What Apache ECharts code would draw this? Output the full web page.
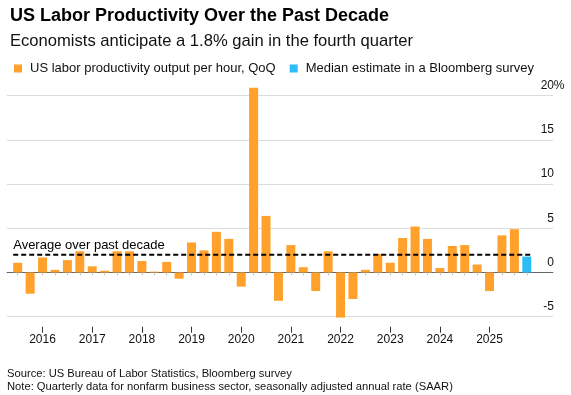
<!DOCTYPE html>
<html>
<head>
<meta charset="utf-8">
<script src="https://cdn.jsdelivr.net/npm/echarts@6/dist/echarts.min.js"></script>
<style>
html,body{margin:0;padding:0;background:#fff;}
#chart{width:571px;height:395px;}
</style>
</head>
<body>
<div id="chart"></div>
<script>
// ---- data ----
const quarters = [
  '2015 Q3','2015 Q4',
  '2016 Q1','2016 Q2','2016 Q3','2016 Q4',
  '2017 Q1','2017 Q2','2017 Q3','2017 Q4',
  '2018 Q1','2018 Q2','2018 Q3','2018 Q4',
  '2019 Q1','2019 Q2','2019 Q3','2019 Q4',
  '2020 Q1','2020 Q2','2020 Q3','2020 Q4',
  '2021 Q1','2021 Q2','2021 Q3','2021 Q4',
  '2022 Q1','2022 Q2','2022 Q3','2022 Q4',
  '2023 Q1','2023 Q2','2023 Q3','2023 Q4',
  '2024 Q1','2024 Q2','2024 Q3','2024 Q4',
  '2025 Q1','2025 Q2','2025 Q3','2025 Q4'
];
const productivity = [
  1.1, -2.4,
  1.7, 0.3, 1.4, 2.4,
  0.7, 0.2, 2.4, 2.4,
  1.3, 0.1, 1.2, -0.7,
  3.4, 2.5, 4.6, 3.8,
  -1.6, 20.9, 6.4, -3.2,
  3.1, 0.6, -2.1, 2.4,
  -5.1, -3.0, 0.3, 2.1,
  1.1, 3.9, 5.2, 3.8,
  0.5, 3.0, 3.1, 0.9,
  -2.1, 4.2, 4.9, null
];
const estimate = [
  null, null,
  null, null, null, null,
  null, null, null, null,
  null, null, null, null,
  null, null, null, null,
  null, null, null, null,
  null, null, null, null,
  null, null, null, null,
  null, null, null, null,
  null, null, null, null,
  null, null, null, 1.8
];
const decadeAverage = 2.0;
const yTicks = [-5, 0, 5, 10, 15, 20];
const seriesNames = ['US labor productivity output per hour, QoQ', 'Median estimate in a Bloomberg survey'];

// ---- chart ----
const FONT = 'Liberation Sans, Arial, Helvetica, sans-serif';
const chart = echarts.init(document.getElementById('chart'), null, {renderer: 'canvas'});
const yMin = yTicks[0], yMax = yTicks[yTicks.length - 1], yStep = yTicks[1] - yTicks[0];
const isQ1 = (idx, val) => /Q1$/.test(val);

const option = {
  backgroundColor: '#fff',
  animation: false,
  textStyle: {fontFamily: FONT},
  title: [
    {text: 'US Labor Productivity Over the Past Decade', left: 5, top: 2,
     textStyle: {fontSize: 18, fontWeight: 'bold', color: '#000', fontFamily: FONT}},
    {text: 'Economists anticipate a 1.8% gain in the fourth quarter', left: 5, top: 28,
     textStyle: {fontSize: 16.6, fontWeight: 'normal', color: '#111', fontFamily: FONT}}
  ],
  legend: {
    data: seriesNames,
    left: 9, top: 57,
    icon: 'rect', itemWidth: 8, itemHeight: 8, itemGap: 14,
    selectedMode: false,
    textStyle: {fontSize: 13, color: '#111', fontFamily: FONT, padding: [0, 0, 0, 3]}
  },
  grid: [
    {left: 7, right: 18, top: 95.7, bottom: 78.3},
    {left: 11.5, right: 38, top: 95.7, bottom: 78.3}
  ],
  xAxis: [
    {gridIndex: 0, type: 'value', min: 0, max: 1, show: true,
     axisLine: {show: true, onZero: true, lineStyle: {color: '#666', width: 1}},
     axisTick: {show: false}, axisLabel: {show: false}, splitLine: {show: false}},
    {gridIndex: 1, type: 'category', data: quarters, position: 'bottom', offset: 11,
     axisLine: {show: false},
     axisTick: {show: true, alignWithLabel: true, interval: 0, length: 3, lineStyle: {color: '#c8c8c8', width: 1}},
     axisLabel: {show: true, interval: isQ1, formatter: v => v.slice(0, 4), margin: 6,
                 fontSize: 12, color: '#111', fontFamily: FONT},
     splitLine: {show: false}},
    {gridIndex: 1, type: 'category', data: quarters, position: 'bottom', offset: 10,
     axisLine: {show: false},
     axisTick: {show: true, alignWithLabel: true, interval: isQ1, length: 6, lineStyle: {color: '#333', width: 1}},
     axisLabel: {show: false}, splitLine: {show: false}}
  ],
  yAxis: [
    {gridIndex: 0, type: 'value', position: 'right', min: yMin, max: yMax, interval: yStep,
     axisLine: {show: false}, axisTick: {show: false},
     splitLine: {show: true, lineStyle: {color: '#dcdcdc', width: 1}},
     axisLabel: {show: true, align: 'right', margin: 11, verticalAlign: 'bottom', padding: [0, 0, 4, 0],
                 formatter: v => v === yMax ? '{n|' + v + '}{p|%}' : '{n|' + v + '}{p| }',
                 rich: {n: {fontSize: 12, color: '#111', fontFamily: FONT},
                        p: {fontSize: 12, color: '#111', width: 10, align: 'left', fontFamily: FONT}}}},
    {gridIndex: 1, type: 'value', min: yMin, max: yMax, interval: yStep, show: false}
  ],
  series: [
    {name: seriesNames[0], type: 'bar', xAxisIndex: 1, yAxisIndex: 1, data: productivity,
     barWidth: 9, barGap: '-100%', clip: false,
     itemStyle: {color: '#FFA12B'}},
    {name: seriesNames[1], type: 'bar', xAxisIndex: 1, yAxisIndex: 1, data: estimate,
     barWidth: 9, barGap: '-100%', clip: false,
     itemStyle: {color: '#2BBDF6'}},
    {type: 'custom', xAxisIndex: 1, yAxisIndex: 1, z: 10, silent: true,
     data: [[0, decadeAverage]],
     renderItem: function (params, api) {
       if (params.dataIndex !== 0) return null;
       const s = api.coord([0, decadeAverage]);
       const e = api.coord([quarters.length - 1, decadeAverage]);
       const half = 4.5;
       return {type: 'group', children: [
         {type: 'line', shape: {x1: s[0] - half, y1: s[1], x2: e[0] + half, y2: e[1]},
          style: {stroke: '#000', lineWidth: 2, lineDash: [5, 3]}},
         {type: 'text', x: s[0] - half, y: s[1] - 3,
          style: {text: 'Average over past decade', fill: '#000', font: '13px ' + FONT,
                  align: 'left', verticalAlign: 'bottom'}}
       ]};
     }}
  ],
  graphic: [
    {type: 'text', left: 7, top: 368,
     style: {text: 'Source: US Bureau of Labor Statistics, Bloomberg survey', fill: '#111', font: '11.2px ' + FONT}},
    {type: 'text', left: 7, top: 381,
     style: {text: 'Note: Quarterly data for nonfarm business sector, seasonally adjusted annual rate (SAAR)', fill: '#111', font: '11.2px ' + FONT}}
  ]
};
chart.setOption(option);
</script>
</body>
</html>
